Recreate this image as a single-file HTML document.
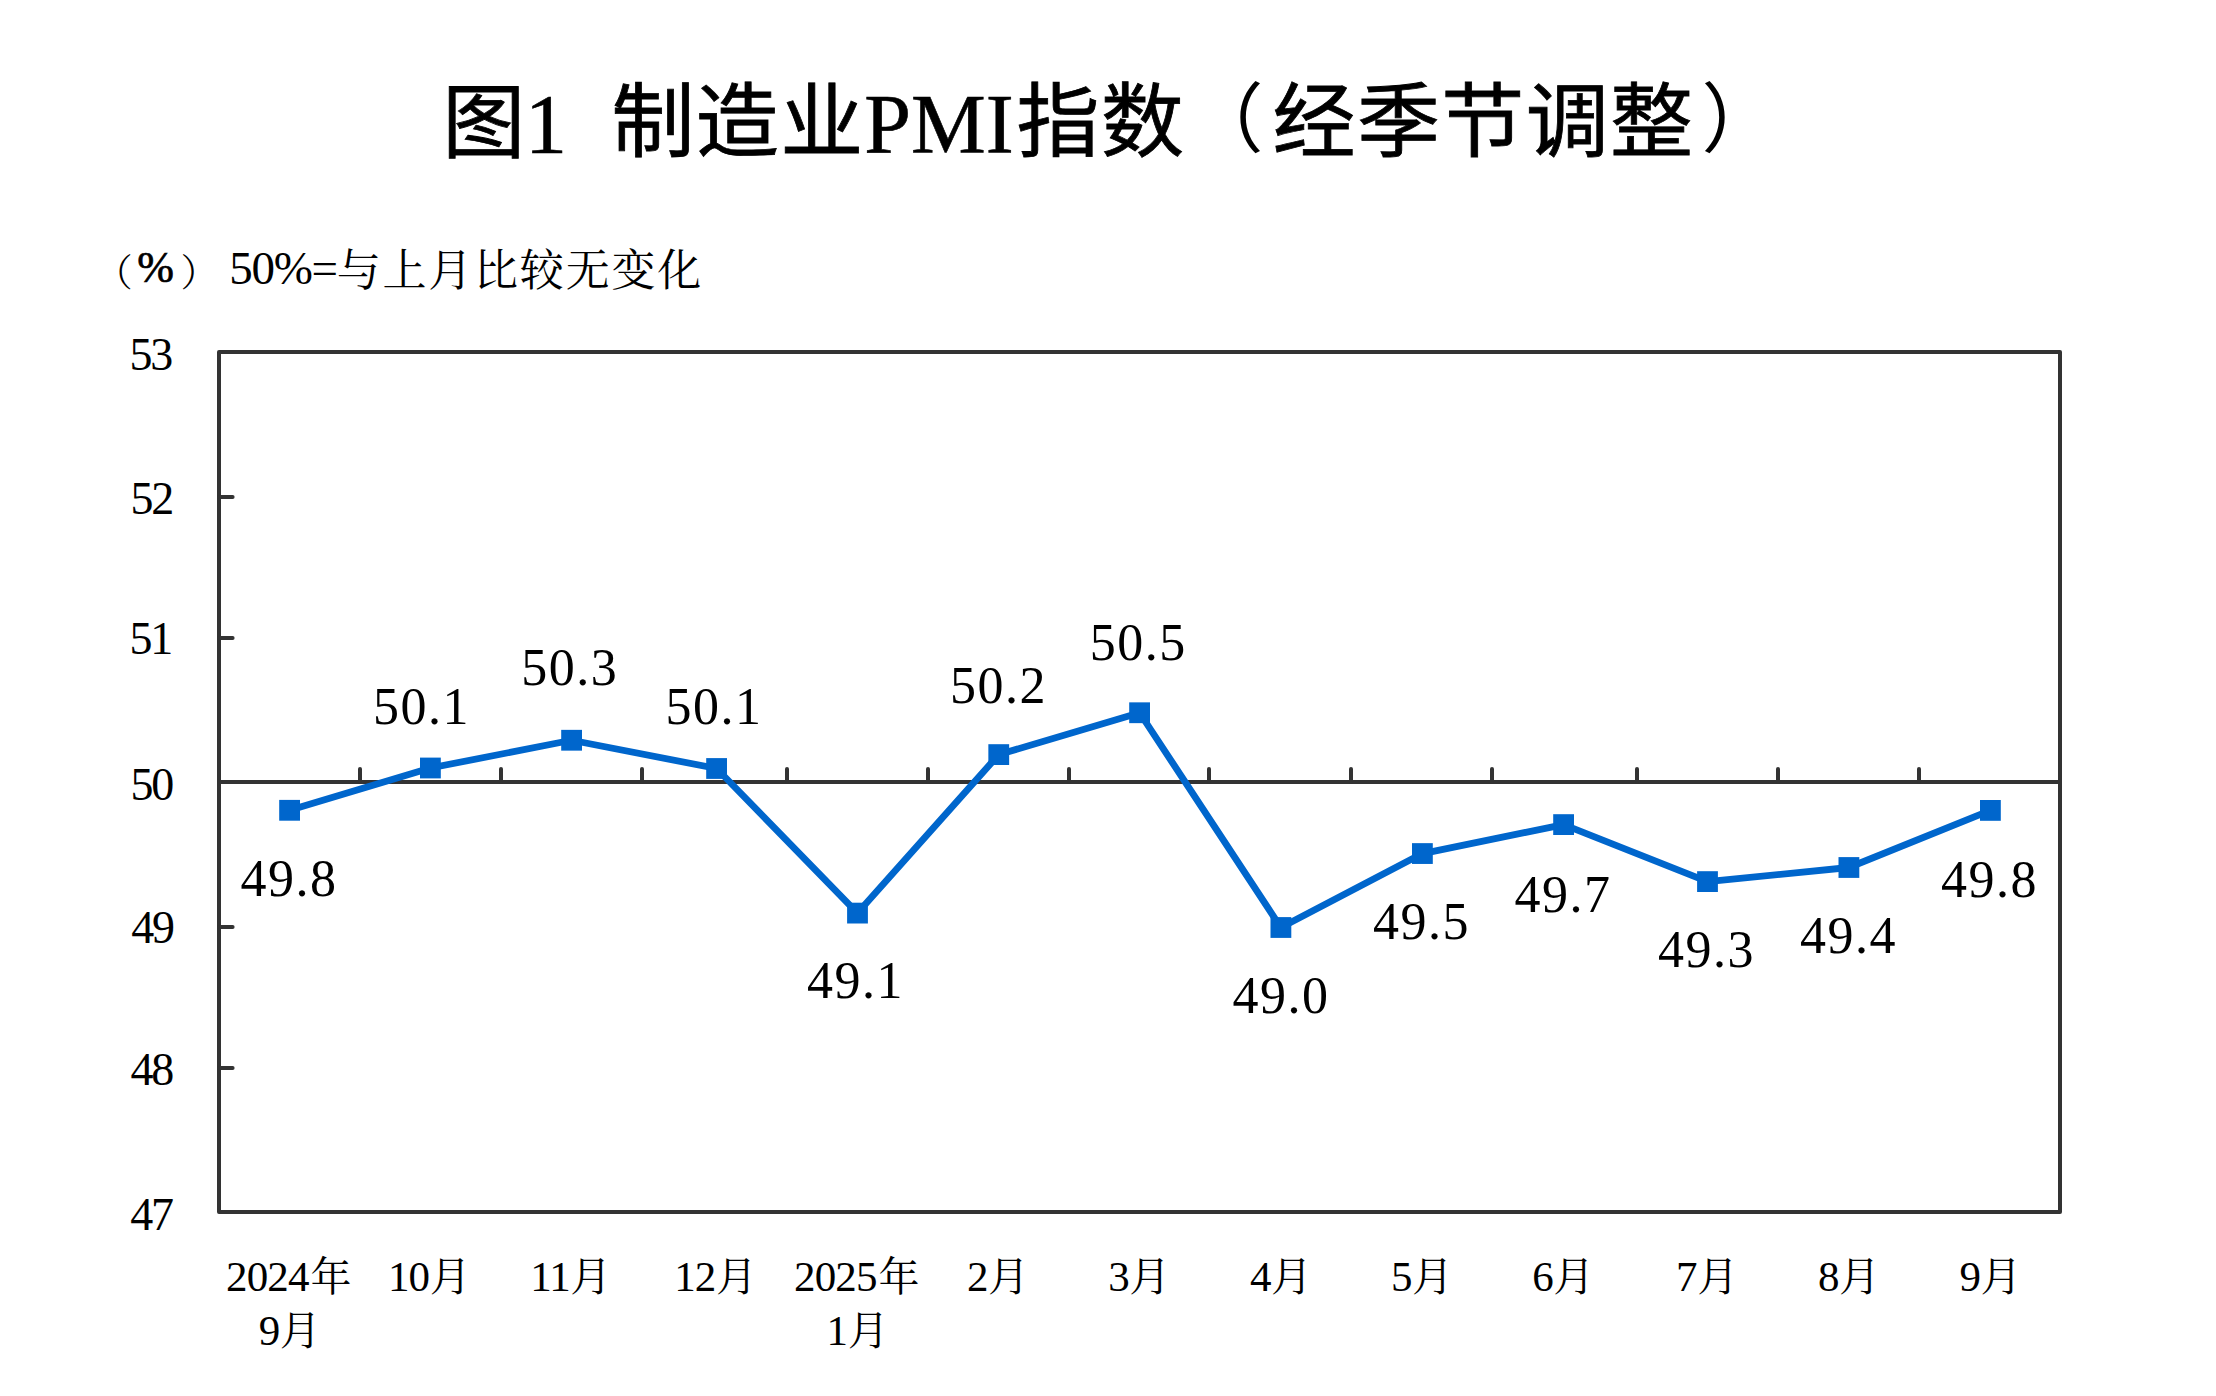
<!DOCTYPE html>
<html lang="zh-CN"><head><meta charset="utf-8"><title>图1 制造业PMI指数（经季节调整）</title>
<style>
html,body{margin:0;padding:0;background:#fff}
body{width:2216px;height:1396px;overflow:hidden;position:relative}
svg{position:absolute;left:0;top:0;display:block}
.t{font-family:"Liberation Serif","Noto Sans CJK SC",sans-serif;font-size:83px;font-weight:400;letter-spacing:1.4px;fill:#000;stroke:#000;stroke-width:0.8px}
.tl{font-family:"Liberation Serif",serif;font-size:84px;fill:#000;stroke:#000;stroke-width:0.6px}
.tp{font-family:"Liberation Serif","Noto Sans CJK SC",sans-serif;font-size:76px;font-weight:400;fill:#000}
.s{font-family:"Liberation Serif","Noto Serif CJK SC",serif;font-size:44px;letter-spacing:1.78px;fill:#000}
.sp{font-family:"Liberation Serif","Noto Serif CJK SC",serif;font-size:38px;font-weight:300;fill:#000}
.sl{font-family:"Liberation Serif",serif;font-size:47px;letter-spacing:-1.3px;fill:#000}
.sb{font-family:"Liberation Serif",serif;font-size:44px;fill:#000;stroke:#000;stroke-width:0.7px}
.y{font-family:"Liberation Serif",serif;font-size:46px;letter-spacing:-2.2px;fill:#000}
.d{font-family:"Liberation Serif",serif;font-size:52px;letter-spacing:1.5px;fill:#000}
.x{font-family:"Liberation Serif","Noto Serif CJK SC",serif;font-size:41px;fill:#000}
.xd{font-family:"Liberation Serif",serif;font-size:43px;letter-spacing:-0.9px}
</style></head><body>
<svg width="2216" height="1396" viewBox="0 0 2216 1396">
<rect x="219.0" y="352.0" width="1841.00" height="860.00" fill="none" stroke="#333333" stroke-width="4" stroke-linejoin="round"/>
<line x1="219.0" y1="497.0" x2="232.6" y2="497.0" stroke="#333333" stroke-width="4" stroke-linecap="round"/>
<line x1="219.0" y1="638.0" x2="232.6" y2="638.0" stroke="#333333" stroke-width="4" stroke-linecap="round"/>
<line x1="219.0" y1="782.0" x2="2060.0" y2="782.0" stroke="#333333" stroke-width="4" stroke-linecap="butt"/>
<line x1="219.0" y1="927.0" x2="232.6" y2="927.0" stroke="#333333" stroke-width="4" stroke-linecap="round"/>
<line x1="219.0" y1="1068.0" x2="232.6" y2="1068.0" stroke="#333333" stroke-width="4" stroke-linecap="round"/>
<line x1="360" y1="782.0" x2="360" y2="769.0" stroke="#333333" stroke-width="4" stroke-linecap="round"/>
<line x1="501" y1="782.0" x2="501" y2="769.0" stroke="#333333" stroke-width="4" stroke-linecap="round"/>
<line x1="642" y1="782.0" x2="642" y2="769.0" stroke="#333333" stroke-width="4" stroke-linecap="round"/>
<line x1="787" y1="782.0" x2="787" y2="769.0" stroke="#333333" stroke-width="4" stroke-linecap="round"/>
<line x1="928" y1="782.0" x2="928" y2="769.0" stroke="#333333" stroke-width="4" stroke-linecap="round"/>
<line x1="1069" y1="782.0" x2="1069" y2="769.0" stroke="#333333" stroke-width="4" stroke-linecap="round"/>
<line x1="1209" y1="782.0" x2="1209" y2="769.0" stroke="#333333" stroke-width="4" stroke-linecap="round"/>
<line x1="1351" y1="782.0" x2="1351" y2="769.0" stroke="#333333" stroke-width="4" stroke-linecap="round"/>
<line x1="1492" y1="782.0" x2="1492" y2="769.0" stroke="#333333" stroke-width="4" stroke-linecap="round"/>
<line x1="1637" y1="782.0" x2="1637" y2="769.0" stroke="#333333" stroke-width="4" stroke-linecap="round"/>
<line x1="1778" y1="782.0" x2="1778" y2="769.0" stroke="#333333" stroke-width="4" stroke-linecap="round"/>
<line x1="1919" y1="782.0" x2="1919" y2="769.0" stroke="#333333" stroke-width="4" stroke-linecap="round"/>
<polyline fill="none" stroke="#0066cc" stroke-width="6.8" stroke-linejoin="round" points="289.60,810.30 430.40,768.00 571.60,740.25 716.60,768.50 857.50,913.10 998.75,754.60 1139.60,712.75 1280.90,927.50 1422.40,853.55 1563.60,824.60 1707.50,881.60 1848.90,867.50 1990.40,810.40"/>
<rect x="279.20" y="799.90" width="20.8" height="20.8" fill="#0066cc"/>
<rect x="420.00" y="757.60" width="20.8" height="20.8" fill="#0066cc"/>
<rect x="561.20" y="729.85" width="20.8" height="20.8" fill="#0066cc"/>
<rect x="706.20" y="758.10" width="20.8" height="20.8" fill="#0066cc"/>
<rect x="847.10" y="902.70" width="20.8" height="20.8" fill="#0066cc"/>
<rect x="988.35" y="744.20" width="20.8" height="20.8" fill="#0066cc"/>
<rect x="1129.20" y="702.35" width="20.8" height="20.8" fill="#0066cc"/>
<rect x="1270.50" y="917.10" width="20.8" height="20.8" fill="#0066cc"/>
<rect x="1412.00" y="843.15" width="20.8" height="20.8" fill="#0066cc"/>
<rect x="1553.20" y="814.20" width="20.8" height="20.8" fill="#0066cc"/>
<rect x="1697.10" y="871.20" width="20.8" height="20.8" fill="#0066cc"/>
<rect x="1838.50" y="857.10" width="20.8" height="20.8" fill="#0066cc"/>
<rect x="1980.00" y="800.00" width="20.8" height="20.8" fill="#0066cc"/>
<text class="t" transform="translate(442.25 150.75) scale(1 0.975)">图</text>
<text class="tl" x="525.00" y="153.00">1</text>
<text class="t" transform="translate(611.40 149.50) scale(1 0.975)">制造业</text>
<text class="tl" x="864.25" y="153.00">PMI</text>
<text class="t" transform="translate(1016.60 149.50) scale(1 0.975)">指数</text>
<text class="tp" x="1187.40" y="145.50">（</text>
<text class="t" transform="translate(1272.50 149.50) scale(1 0.975)">经季节调整</text>
<text class="tp" x="1701.60" y="145.50">）</text>
<text class="sp" x="94.75" y="285.75">（</text>
<text class="sb" x="137.30" y="282.30">%</text>
<text class="sp" x="180.50" y="285.75">）</text>
<text class="sl" x="229.25" y="283.75">50%=</text>
<text class="s" x="336.75" y="286.00">与上月比较无变化</text>
<text class="y" x="129.40" y="370.00">53</text>
<text class="y" x="130.50" y="513.75">52</text>
<text class="y" x="129.50" y="654.25">51</text>
<text class="y" x="130.50" y="799.50">50</text>
<text class="y" x="131.25" y="943.00">49</text>
<text class="y" x="130.50" y="1085.00">48</text>
<text class="y" x="130.25" y="1229.50">47</text>
<text class="d" x="240.45" y="896.30">49.8</text>
<text class="d" x="373.10" y="724.00">50.1</text>
<text class="d" x="521.25" y="684.50">50.3</text>
<text class="d" x="665.40" y="724.00">50.1</text>
<text class="d" x="807.05" y="998.00">49.1</text>
<text class="d" x="950.10" y="702.75">50.2</text>
<text class="d" x="1089.85" y="660.00">50.5</text>
<text class="d" x="1232.50" y="1012.75">49.0</text>
<text class="d" x="1372.90" y="938.50">49.5</text>
<text class="d" x="1514.40" y="911.50">49.7</text>
<text class="d" x="1658.10" y="966.50">49.3</text>
<text class="d" x="1800.10" y="952.75">49.4</text>
<text class="d" x="1940.90" y="897.25">49.8</text>
<text class="x" x="226.10" y="1290.50"><tspan class="xd">2024</tspan><tspan dx="2">年</tspan></text>
<text class="x" x="258.75" y="1344.50"><tspan class="xd">9</tspan><tspan dx="0.5">月</tspan></text>
<text class="x" x="388.00" y="1290.50"><tspan class="xd">10</tspan><tspan dx="0.5">月</tspan></text>
<text class="x" x="530.25" y="1290.50"><tspan class="xd">11</tspan><tspan dx="0.5">月</tspan></text>
<text class="x" x="674.25" y="1290.50"><tspan class="xd">12</tspan><tspan dx="0.5">月</tspan></text>
<text class="x" x="794.10" y="1290.50"><tspan class="xd">2025</tspan><tspan dx="2">年</tspan></text>
<text class="x" x="826.60" y="1344.50"><tspan class="xd">1</tspan><tspan dx="0.5">月</tspan></text>
<text class="x" x="967.00" y="1290.50"><tspan class="xd">2</tspan><tspan dx="0.5">月</tspan></text>
<text class="x" x="1108.25" y="1290.50"><tspan class="xd">3</tspan><tspan dx="0.5">月</tspan></text>
<text class="x" x="1250.00" y="1290.50"><tspan class="xd">4</tspan><tspan dx="0.5">月</tspan></text>
<text class="x" x="1391.00" y="1290.50"><tspan class="xd">5</tspan><tspan dx="0.5">月</tspan></text>
<text class="x" x="1532.20" y="1290.50"><tspan class="xd">6</tspan><tspan dx="0.5">月</tspan></text>
<text class="x" x="1676.10" y="1290.50"><tspan class="xd">7</tspan><tspan dx="0.5">月</tspan></text>
<text class="x" x="1818.00" y="1290.50"><tspan class="xd">8</tspan><tspan dx="0.5">月</tspan></text>
<text class="x" x="1959.50" y="1290.50"><tspan class="xd">9</tspan><tspan dx="0.5">月</tspan></text>
</svg></body></html>
